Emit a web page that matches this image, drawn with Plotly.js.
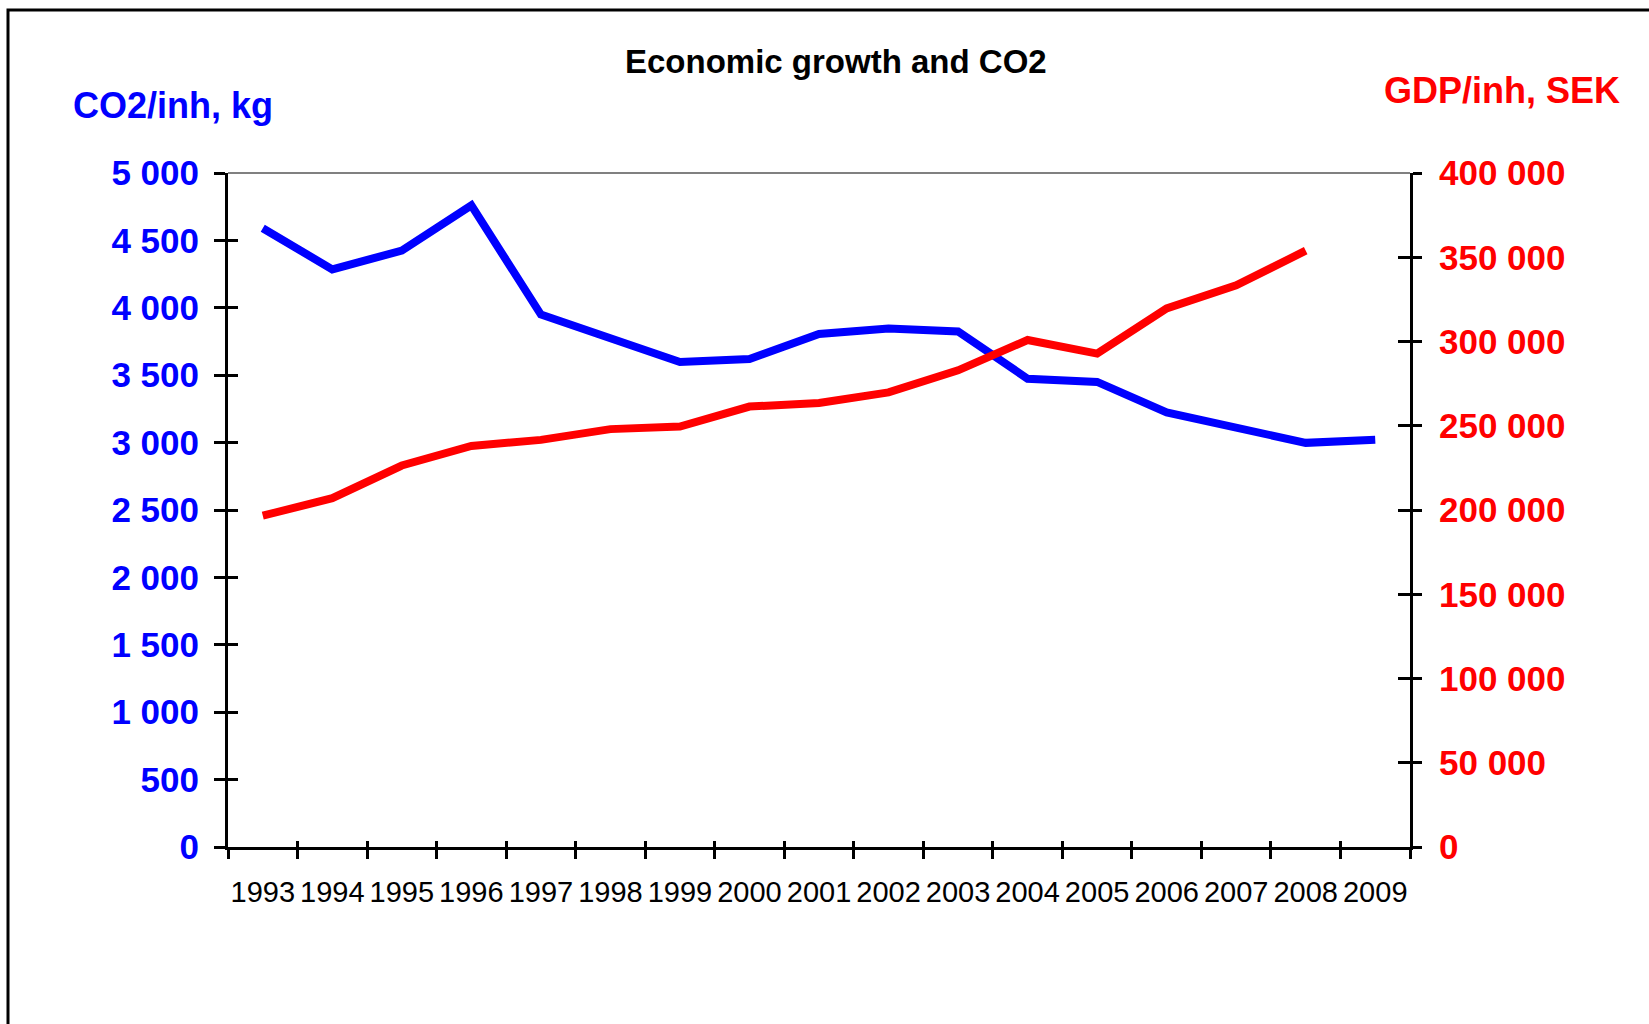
<!DOCTYPE html>
<html>
<head>
<meta charset="utf-8">
<script src="https://cdn.plot.ly/plotly-3.0.1.min.js"></script>
<style>html,body{margin:0;padding:0;background:#fff;}#chart{width:1649px;height:1024px;}</style>
</head>
<body>
<div id="chart"></div>
<script>
const years = ["1993","1994","1995","1996","1997","1998","1999","2000","2001","2002","2003","2004","2005","2006","2007","2008","2009"];
const co2PerInh = [4590,4285,4425,4760,3950,3770,3598,3620,3806,3847,3824,3474,3450,3224,3115,2998,3022];
const gdpYears = ["1993","1994","1995","1996","1997","1998","1999","2000","2001","2002","2003","2004","2005","2006","2007","2008"];
const gdpPerInh = [196600,207000,226400,238000,241600,248000,249500,261400,263500,269800,282900,300900,292800,319600,333300,353900];
const co2Ticks = [0,500,1000,1500,2000,2500,3000,3500,4000,4500,5000];
const gdpTicks = [0,50000,100000,150000,200000,250000,300000,350000,400000];

const FONT = "Liberation Sans, Arial, sans-serif";
const L = 228, R = 1410, T = 173, B = 847;
const px = v => (v - L) / (R - L);
const py = v => (B - v) / (B - T);

const traces = [
  {x: years, y: co2PerInh, type: "scatter", mode: "lines", name: "CO2/inh, kg",
   line: {color: "#0000FF", width: 8}, xaxis: "x", yaxis: "y", hoverinfo: "skip"},
  {x: gdpYears, y: gdpPerInh, type: "scatter", mode: "lines", name: "GDP/inh, SEK",
   line: {color: "#FF0000", width: 8}, xaxis: "x", yaxis: "y2", hoverinfo: "skip"},
  // empty helper traces so the inner-tick overlay axes get drawn
  {x: [], y: [], type: "scatter", mode: "lines", xaxis: "x2", yaxis: "y", hoverinfo: "skip"},
  {x: [], y: [], type: "scatter", mode: "lines", xaxis: "x", yaxis: "y3", hoverinfo: "skip"},
  {x: [], y: [], type: "scatter", mode: "lines", xaxis: "x", yaxis: "y4", hoverinfo: "skip"}
];

const layout = {
  width: 1649, height: 1024,
  paper_bgcolor: "#FFFFFF", plot_bgcolor: "#FFFFFF",
  margin: {l: L, r: 1649 - R, t: T, b: 1024 - B, pad: 0},
  showlegend: false,
  separators: ". ",
  font: {family: FONT, color: "#000"},
  xaxis: {
    type: "category", categoryorder: "array", categoryarray: years,
    range: [-0.5, years.length - 0.5], tickson: "boundaries",
    ticks: "outside", ticklen: 9, tickwidth: 3, tickcolor: "#000",
    showline: true, linecolor: "#000", linewidth: 3, showgrid: false, zeroline: false,
    tickangle: 0, tickfont: {family: FONT, size: 29, color: "#000"}, ticklabelstandoff: 17,
    fixedrange: true
  },
  xaxis2: {
    overlaying: "x", anchor: "y", side: "bottom", type: "linear",
    range: [-0.5, years.length - 0.5], tick0: -0.5, dtick: 1,
    ticks: "inside", ticklen: 6, tickwidth: 3, tickcolor: "#000",
    showticklabels: false, showline: false, showgrid: false, zeroline: false
  },
  yaxis: {
    range: [0, 5000], tickvals: co2Ticks, tickformat: ",d",
    ticks: "outside", ticklen: 11, tickwidth: 3, tickcolor: "#000",
    showline: true, linecolor: "#000", linewidth: 3, showgrid: false, zeroline: false,
    tickfont: {family: FONT, size: 35, color: "#0000FF", weight: "bold"}, ticklabelstandoff: 8,
    fixedrange: true
  },
  yaxis3: {
    overlaying: "y", anchor: "x", side: "left",
    range: [0, 5000], tickvals: co2Ticks,
    ticks: "inside", ticklen: 10, tickwidth: 3, tickcolor: "#000",
    showticklabels: false, showline: false, showgrid: false, zeroline: false
  },
  yaxis2: {
    overlaying: "y", side: "right", anchor: "x",
    range: [0, 400000], tickvals: gdpTicks, tickformat: ",d",
    ticks: "outside", ticklen: 9, tickwidth: 3, tickcolor: "#000",
    showline: true, linecolor: "#000", linewidth: 3, showgrid: false, zeroline: false,
    tickfont: {family: FONT, size: 35, color: "#FF0000", weight: "bold"}, ticklabelstandoff: 10,
    fixedrange: true
  },
  yaxis4: {
    overlaying: "y", anchor: "x", side: "right",
    range: [0, 400000], tickvals: gdpTicks,
    ticks: "inside", ticklen: 12, tickwidth: 3, tickcolor: "#000",
    showticklabels: false, showline: false, showgrid: false, zeroline: false
  },
  shapes: [
    {type: "line", xref: "paper", yref: "paper", x0: 0, x1: 1, y0: 1, y1: 1,
     line: {color: "#808080", width: 2}, layer: "below"},
    {type: "rect", xref: "paper", yref: "paper", x0: px(8), x1: 1.6, y0: -0.6, y1: py(10),
     line: {color: "#000", width: 3}, fillcolor: "rgba(0,0,0,0)"}
  ],
  annotations: [
    {text: "Economic growth and CO2", xref: "paper", yref: "paper", x: px(836), y: py(62),
     xanchor: "center", yanchor: "middle", showarrow: false,
     font: {family: FONT, size: 33, color: "#000", weight: "bold"}},
    {text: "CO2/inh, kg", xref: "paper", yref: "paper", x: px(71), y: py(105),
     xanchor: "left", yanchor: "middle", showarrow: false,
     font: {family: FONT, size: 36, color: "#0000FF", weight: "bold"}},
    {text: "GDP/inh, SEK", xref: "paper", yref: "paper", x: px(1382), y: py(91),
     xanchor: "left", yanchor: "middle", showarrow: false,
     font: {family: FONT, size: 36, color: "#FF0000", weight: "bold"}}
  ]
};

Plotly.newPlot("chart", traces, layout, {staticPlot: true, displayModeBar: false});
</script>
</body>
</html>
